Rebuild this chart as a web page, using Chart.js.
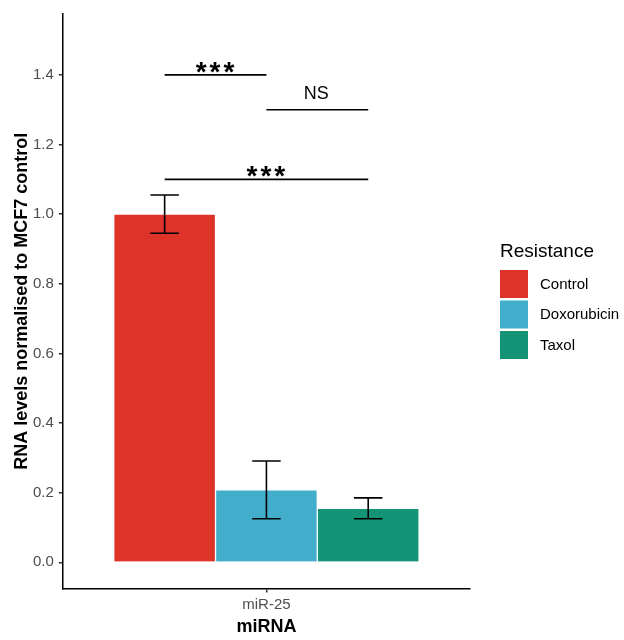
<!DOCTYPE html>
<html>
<head>
<meta charset="utf-8">
<script src="https://cdn.jsdelivr.net/npm/chart.js@4"></script>
<style>
html, body { margin: 0; padding: 0; background: #fff; }
#wrap { width: 624px; height: 640px; }
</style>
</head>
<body>
<div id="wrap"><canvas id="canvas"></canvas></div>
<script>
// data
const categories = ['miR-25'];
const groups = ['Control', 'Doxorubicin', 'Taxol'];
const means = [1.0, 0.208, 0.155];
const errors = [0.055, 0.083, 0.03];
const colors = ['#de3329', '#43aecb', '#149376'];
const yTicks = [0, 0.2, 0.4, 0.6, 0.8, 1.0, 1.2, 1.4];

// significance brackets
const compFrom = [0, 1, 0];
const compTo = [1, 2, 2];
const compY = [1.4, 1.3, 1.1];
const compLabel = ['***', 'NS', '***'];

const FONT = "'Liberation Sans', Arial, sans-serif";
const dodge = 0.9;
const capHalf = 0.042;

// centre of each dodged bar (category sits at 1 on a 0.4..1.6 axis)
function barX(i) {
    const w = dodge / groups.length;
    return 1 - dodge / 2 + w / 2 + i * w;
}

const errPoints = [];
means.forEach((m, i) => {
    const xc = barX(i);
    const lo = m - errors[i];
    const hi = m + errors[i];
    errPoints.push({ x: xc, y: lo }, { x: xc, y: hi }, { x: xc, y: null });
    errPoints.push({ x: xc - capHalf, y: hi }, { x: xc + capHalf, y: hi }, { x: xc + capHalf, y: null });
    errPoints.push({ x: xc - capHalf, y: lo }, { x: xc + capHalf, y: lo }, { x: xc + capHalf, y: null });
});

const sigPoints = [];
compFrom.forEach((a, k) => {
    sigPoints.push({ x: barX(a), y: compY[k] }, { x: barX(compTo[k]), y: compY[k] }, { x: barX(compTo[k]), y: null });
});

const datasets = [
    {
        type: 'line', label: 'errors', data: errPoints,
        borderColor: '#000', borderWidth: 1.6, pointRadius: 0, spanGaps: false, order: 0
    },
    {
        type: 'line', label: 'signif', data: sigPoints,
        borderColor: '#000', borderWidth: 1.6, pointRadius: 0, spanGaps: false, order: 0
    }
];
groups.forEach((g, i) => {
    datasets.push({
        type: 'bar', label: g, data: [{ x: barX(i), y: means[i] }], backgroundColor: colors[i],
        borderColor: 'rgba(255,255,255,0.45)', borderWidth: 1,
        grouped: false, categoryPercentage: 1.0, barPercentage: 1.0, order: 1
    });
});

const sigText = {
    id: 'sigText',
    afterDatasetsDraw(chart) {
        const ctx = chart.ctx;
        const x = chart.scales.x;
        const y = chart.scales.y;
        ctx.save();
        ctx.fillStyle = '#000';
        ctx.textAlign = 'center';
        ctx.textBaseline = 'alphabetic';
        compLabel.forEach((t, k) => {
            const px = x.getPixelForValue((barX(compFrom[k]) + barX(compTo[k])) / 2);
            const py = y.getPixelForValue(compY[k]);
            if (t === 'NS') {
                ctx.font = '18px ' + FONT;
                ctx.letterSpacing = '0px';
                ctx.fillText(t, px - 1, py - 11);
            } else {
                ctx.font = 'bold 28px ' + FONT;
                ctx.letterSpacing = '3px';
                ctx.fillText(t, px + 1, py + 6);
            }
        });
        ctx.restore();
    }
};

const sideLegend = {
    id: 'sideLegend',
    afterDraw(chart) {
        const ctx = chart.ctx;
        ctx.save();
        ctx.fillStyle = '#000';
        ctx.font = '19px ' + FONT;
        ctx.textAlign = 'left';
        ctx.textBaseline = 'alphabetic';
        ctx.fillText('Resistance', 500, 256.5);
        ctx.font = '15px ' + FONT;
        ctx.textBaseline = 'middle';
        groups.forEach((g, i) => {
            const top = 270 + i * 30.5;
            ctx.fillStyle = colors[i];
            ctx.fillRect(500, top, 28, 28);
            ctx.fillStyle = '#000';
            ctx.fillText(g, 540, top + 14.5);
        });
        ctx.restore();
    }
};

new Chart(document.getElementById('canvas'), {
    data: { datasets: datasets },
    options: {
        responsive: true,
        maintainAspectRatio: false,
        animation: false,
        layout: { padding: { left: 11, right: 154, top: 12, bottom: 2 } },
        plugins: {
            legend: { display: false },
            tooltip: { enabled: false }
        },
        scales: {
            x: {
                type: 'linear',
                position: 'bottom',
                min: 0.4,
                max: 1.6,
                offset: false,
                afterBuildTicks: (scale) => { scale.ticks = [{ value: 1 }]; },
                grid: { offset: false, drawOnChartArea: false, drawTicks: true, tickLength: 4, color: '#333', lineWidth: 1.5 },
                border: { display: true, color: '#000', width: 1.5 },
                ticks: {
                    color: '#4d4d4d', font: { family: FONT, size: 15 }, padding: 3,
                    callback: () => categories[0]
                },
                title: {
                    display: true, text: 'miRNA', color: '#000',
                    font: { family: FONT, size: 18, weight: 'bold' }, padding: { top: 0, bottom: 0 }
                }
            },
            y: {
                type: 'linear',
                min: -0.075,
                max: 1.575,
                afterBuildTicks: (scale) => { scale.ticks = yTicks.map(v => ({ value: v })); },
                grid: { drawOnChartArea: false, drawTicks: true, tickLength: 4, color: '#333', lineWidth: 1.5 },
                border: { display: true, color: '#000', width: 1.5 },
                ticks: {
                    color: '#4d4d4d', font: { family: FONT, size: 15 }, padding: 5,
                    callback: (v) => Number(v).toFixed(1)
                },
                title: {
                    display: true, text: 'RNA levels normalised to MCF7 control', color: '#000',
                    font: { family: FONT, size: 18, weight: 'bold', lineHeight: 1 }, padding: { top: 2, bottom: -3 }
                }
            }
        }
    },
    plugins: [sigText, sideLegend]
});
</script>
</body>
</html>
